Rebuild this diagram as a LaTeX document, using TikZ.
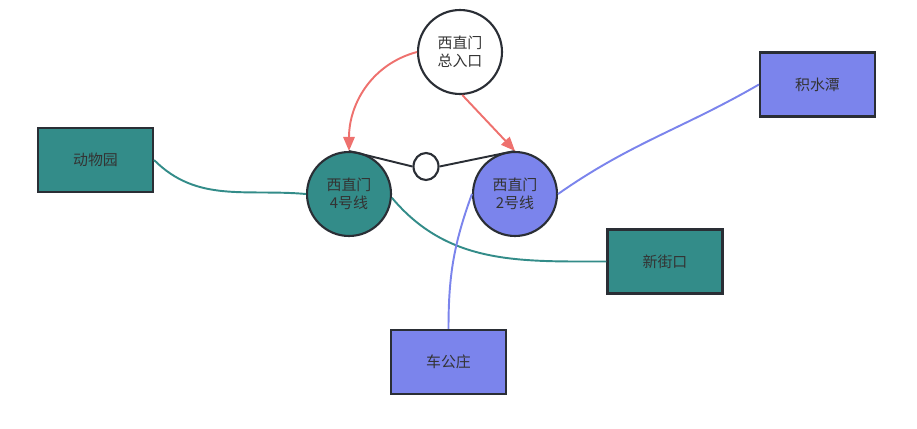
\documentclass[tikz,border=0pt]{standalone}
\usepackage{fontspec}
\setmainfont{Noto Sans CJK SC}
\usetikzlibrary{shapes,arrows,arrows.meta}

\definecolor{teal4}{HTML}{338C89}
\definecolor{blue2}{HTML}{7B84EC}
\definecolor{redarr}{HTML}{EE716E}
\definecolor{rim}{HTML}{2A2E35}
\definecolor{txt}{HTML}{333333}

\begin{document}
\begin{tikzpicture}[x=0.02cm,y=-0.02cm,
  station/.style={rectangle,draw=rim,line width=1.2pt,minimum width=2.3cm,minimum height=1.28cm,text=txt,font=\fontsize{8.5}{10}\selectfont},
  hub/.style={circle,draw=rim,line width=1.2pt,minimum size=1.68cm,inner sep=0pt,align=center,text=txt,font=\fontsize{8.5}{10}\selectfont},
  feed/.style={draw=redarr,line width=1.1pt,-{Triangle[length=8pt,width=6.5pt]}},
  link/.style={line width=1.1pt}]
\useasboundingbox (0,0) rectangle (917,429);

\node[hub,fill=white] (gate) at (460,52) {西直门\\总入口};
\node[hub,fill=teal4] (line4) at (349,194) {西直门\\4号线};
\node[hub,fill=blue2] (line2) at (515,194) {西直门\\2号线};
\node[ellipse,draw=rim,line width=1.2pt,fill=white,minimum width=0.5cm,minimum height=0.54cm,inner sep=0pt] (pass) at (426,166.5) {};

\node[station,fill=teal4] (zoo) at (95.5,160) {动物园};
\node[station,fill=blue2] (jst) at (817.5,84.5) {积水潭};
\node[station,fill=teal4] (xjk) at (665,261.5) {新街口};
\node[station,fill=blue2] (cgz) at (448.5,362) {车公庄};

% transfer passage
\draw[rim,link] (line4.north) -- (pass.west);
\draw[rim,link] (pass.east) -- (line2.north);

% entrance
\draw[feed] (gate.west) to[out=195,in=90] (line4.north);
\draw[feed] (gate.-87) -- (line2.north);

% line 4
\draw[teal4,link] (zoo.east) to[out=-45,in=175] (line4.west);
\draw[teal4,link] (line4.-5) to[out=-50,in=180] (xjk.west);

% line 2
\draw[blue2,link] (line2.east) to[out=35,in=210] (jst.west);
\draw[blue2,link] (cgz.north) to[out=90,in=250] (line2.west);
\end{tikzpicture}
\end{document}
